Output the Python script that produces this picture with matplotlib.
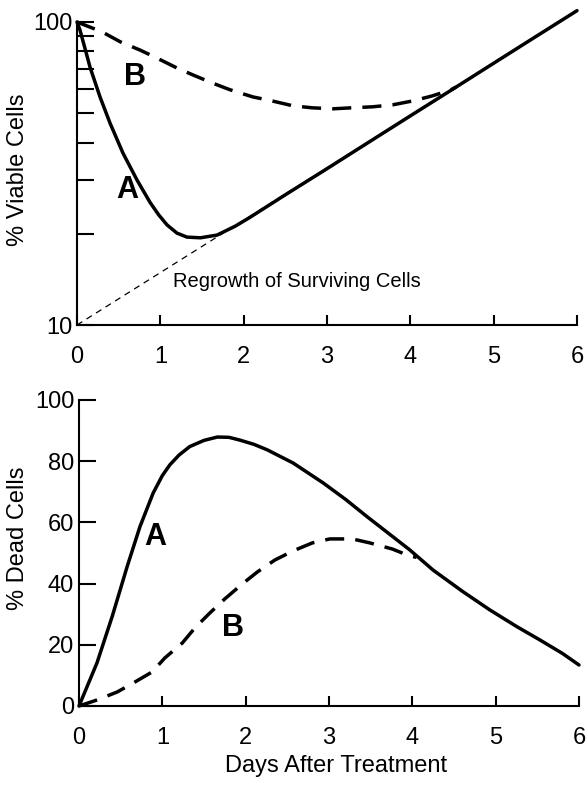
import matplotlib
matplotlib.use("Agg")
import matplotlib.pyplot as plt
from matplotlib.ticker import LogLocator, NullFormatter

plt.rcParams["font.family"] = ["Liberation Sans", "DejaVu Sans"]

# --- top panel: % viable cells (log scale) ---
viable_a_days = [0.0, 0.036, 0.1, 0.156, 0.276, 0.396, 0.552, 0.72, 0.876, 0.98, 1.08,
                 1.2, 1.32, 1.48, 1.68, 1.9, 2.08, 2.5, 3.0, 3.5, 4.0, 4.5, 5.0, 5.5, 6.0]
viable_a = [100, 94, 81, 71, 56.6, 46.4, 36.9, 30.1, 25.4, 23.1, 21.4,
            20.1, 19.5, 19.4, 19.8, 21.2, 22.7, 26.9, 32.8, 40.1, 49.0, 59.8, 73.1, 89.3, 109]

viable_b_days = [0.0, 0.3, 0.52, 0.756, 0.96, 1.2, 1.39, 1.63, 1.84, 2.11, 2.34, 2.59,
                 2.82, 3.07, 3.3, 3.55, 3.79, 4.03, 4.26, 4.48, 4.55]
viable_b = [100, 92.8, 86.0, 80.8, 76.0, 70.5, 66.9, 62.8, 59.7, 56.6, 54.9, 52.9,
            52.1, 51.7, 52.1, 52.5, 53.3, 54.9, 57.0, 59.6, 61.0]

regrowth_days = [0, 6]
regrowth = [10, 109]

# --- bottom panel: % dead cells ---
dead_a_days = [0.0, 0.216, 0.4, 0.576, 0.73, 0.89, 1.0, 1.09, 1.2, 1.33, 1.5, 1.66,
               1.8, 1.93, 2.1, 2.26, 2.57, 2.93, 3.2, 3.46, 3.72, 3.97, 4.25, 4.6,
               4.93, 5.25, 5.53, 5.8, 6.0]
dead_a = [0, 14.1, 29.4, 45.4, 58.5, 69.6, 75.3, 78.8, 82.0, 84.8, 86.8, 87.9,
          87.8, 86.9, 85.5, 83.7, 79.4, 72.9, 67.5, 61.8, 56.3, 51.0, 44.4, 37.5,
          31.4, 26, 21.6, 17.2, 13.4]

dead_b_days = [0.0, 0.22, 0.46, 0.65, 0.876, 1.03, 1.24, 1.39, 1.57, 1.75, 1.96, 2.14,
               2.35, 2.57, 2.8, 3.01, 3.28, 3.49, 3.76, 3.97, 4.05]
dead_b = [0, 2.0, 4.6, 7.5, 11.1, 15.7, 20.6, 25.5, 30.4, 35.0, 39.9, 43.8,
          47.7, 50.7, 53.3, 54.6, 54.6, 53.3, 51.3, 49.0, 48.6]

day_ticks = [0, 1, 2, 3, 4, 5, 6]
dead_ticks = [0, 20, 40, 60, 80, 100]

LW = 2.5
DASH = (5.5, 3.2)
TICK_FS = 17

fig = plt.figure(figsize=(5.86, 7.94), dpi=100)

ax1 = fig.add_axes([77 / 586, 1 - 325 / 794, 500 / 586, 303 / 794])
ax2 = fig.add_axes([79 / 586, 1 - 706 / 794, 500 / 586, 306 / 794])

for ax in (ax1, ax2):
    ax.spines["top"].set_visible(False)
    ax.spines["right"].set_visible(False)
    ax.spines["left"].set_linewidth(1.5)
    ax.spines["bottom"].set_linewidth(1.5)
    ax.set_xlim(0, 6)
    ax.set_xticks(day_ticks)
    ax.tick_params(axis="x", which="both", direction="in", length=7, width=1.5,
                   pad=15, labelsize=TICK_FS)
    ax.tick_params(axis="y", which="both", direction="in", length=12, width=1.5,
                   pad=3.5, labelsize=TICK_FS)

# top panel
ax1.set_yscale("log")
ax1.set_ylim(10, 100)
ax1.set_yticks([10, 100], labels=["10", "100"])
ax1.yaxis.set_minor_locator(LogLocator(base=10, subs=[2, 3, 4, 5, 6, 7, 8, 9]))
ax1.yaxis.set_minor_formatter(NullFormatter())

ax1.plot(regrowth_days, regrowth, color="black", lw=0.9, dashes=(5, 4), clip_on=False)
ax1.plot(viable_a_days, viable_a, color="black", lw=LW, clip_on=False,
         solid_capstyle="round", solid_joinstyle="round")
ax1.plot(viable_b_days, viable_b, color="black", lw=LW, dashes=DASH, clip_on=False)

ax1.text(0.6, 27.9, "A", fontsize=22, fontweight="bold", ha="center", va="center")
ax1.text(0.7, 65.8, "B", fontsize=22, fontweight="bold", ha="center", va="center")
ax1.text(1.15, 13.9, "Regrowth of Surviving Cells", fontsize=14.5, ha="left", va="center")

# bottom panel
ax2.set_ylim(0, 100)
ax2.set_yticks(dead_ticks)
ax2.plot(dead_a_days, dead_a, color="black", lw=LW, clip_on=False,
         solid_capstyle="round", solid_joinstyle="round")
ax2.plot(dead_b_days, dead_b, color="black", lw=LW, dashes=DASH, clip_on=False)

ax2.text(0.91, 55.2, "A", fontsize=22, fontweight="bold", ha="center", va="center")
ax2.text(1.85, 25.5, "B", fontsize=22, fontweight="bold", ha="center", va="center")

fig.text(18 / 586, 1 - 170 / 794, "% Viable Cells", rotation=90, fontsize=17,
         ha="center", va="center")
fig.text(18 / 586, 1 - 538 / 794, "% Dead Cells", rotation=90, fontsize=17,
         ha="center", va="center")
fig.text(336 / 586, 1 - 766 / 794, "Days After Treatment", fontsize=17,
         ha="center", va="center")

fig.savefig("out.png", dpi=100)
